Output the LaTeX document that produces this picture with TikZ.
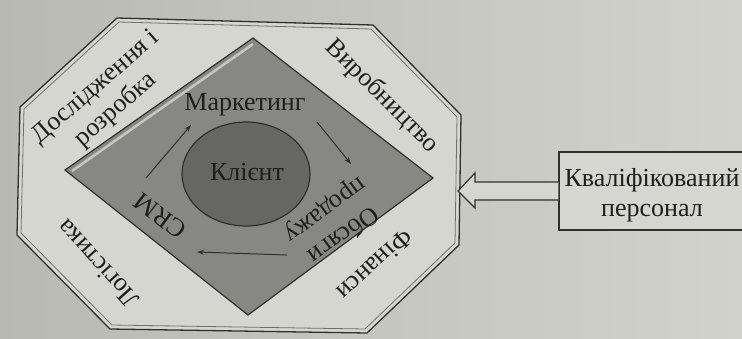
\documentclass[tikz,border=0pt]{standalone}
\usepackage{fontspec}
\setmainfont{Liberation Serif}
\usetikzlibrary{calc,arrows.meta,shapes.geometric}
\definecolor{bgL}{HTML}{B9B9B4}
\definecolor{bgR}{HTML}{D2D2CD}
\definecolor{octfill}{HTML}{D6D6D1}
\definecolor{diafill}{HTML}{878784}
\definecolor{circfill}{HTML}{666663}
\definecolor{ink}{HTML}{30302B}
\definecolor{txt}{HTML}{1E1E1B}
\tikzset{
  lbl/.style={font=\fontsize{26}{30}\selectfont, text=txt, align=center, inner sep=0pt},
  octline/.style={draw=ink, line width=1.3pt, line join=miter},
  octinner/.style={draw=ink!70, line width=0.8pt},
  flow/.style={draw=ink, line width=1pt, -{Stealth[length=7pt,width=5pt]}},
  boxline/.style={draw=ink, line width=1.3pt}
}
\begin{document}
\begin{tikzpicture}[x=1pt,y=-1pt]
\useasboundingbox (0,0) rectangle (742,338);
\clip (0,0) rectangle (742,338);
\shade[left color=bgL, right color=bgR] (0,0) rectangle (742,338);
% octagon
\coordinate (A) at (117,18);
\coordinate (B) at (373,25);
\coordinate (C) at (461,115);
\coordinate (D) at (459,245);
\coordinate (E) at (367,333);
\coordinate (F) at (110,329);
\coordinate (G) at (17,235);
\coordinate (H) at (20,107);
\fill[octfill] (A)--(B)--(C)--(D)--(E)--(F)--(G)--(H)--cycle;
\draw[octline] (A)--(B)--(C)--(D)--(E)--(F)--(G)--(H)--cycle;
\draw[octinner] (119,22)--(371,29)--(457,117)--(455,243)--(365,329)--(112,325)--(21,233)--(24,109)--cycle;
% diamond
\coordinate (DT) at (253,38);
\coordinate (DR) at (433,178);
\coordinate (DB) at (248,315);
\coordinate (DL) at (65,170);
\fill[diafill] (DT)--(DR)--(DB)--(DL)--cycle;
\draw[ink, line width=1.2pt, line join=miter] (DT)--(DR)--(DB)--(DL)--cycle;
\draw[octfill!80!diafill, line width=2.5pt] ($(DL)+(7,1)$)--($(DT)+(0,6)$);
% client
\node[ellipse, draw=ink, line width=1.2pt, fill=circfill, minimum width=128pt, minimum height=104pt, inner sep=0pt] (client) at (246,174) {};
\node[lbl] (klient) at (247,172) {Клієнт};
% inner labels
\node[lbl] (mark) at (245,105) {Маркетинг};
\node[lbl, rotate=-144] (obs) at (334,222) {Обсяги\\продажу};
\node[lbl, rotate=143] (crm) at (160,216) {CRM};
% flow arrows
\coordinate (a1s) at (146,178);
\coordinate (a1e) at (191,125);
\coordinate (a2s) at (317,122);
\coordinate (a2e) at (351,164);
\coordinate (a3s) at (287,255);
\coordinate (a3e) at (197,252);
\draw[flow] (a1s) -- (a1e);
\draw[flow] (a2s) -- (a2e);
\draw[flow] (a3s) -- (a3e);
% octagon labels
\node[lbl, rotate=41] (rd) at (106,99) {Дослідження і\\розробка};
\node[lbl, rotate=-45] (vyr) at (382,96) {Виробництво};
\node[lbl, rotate=-137] (fin) at (375,265) {Фінанси};
\node[lbl, rotate=132] (log) at (98,264) {Логістика};
% personnel box
\node[boxline, fill=octfill, minimum width=216pt, minimum height=78pt, inner sep=0pt] (box) at (667,191) {};
\node[lbl] (pers) at (652,195) {Кваліфікований\\персонал};
\coordinate (tip) at (458,191);
\draw[draw=ink, line width=1.2pt, fill=octfill, line join=miter]
  ($(box.west)+(0,-9)$) -- ($(tip)+(17,-9)$) -- ($(tip)+(17,-18)$) -- (tip)
  -- ($(tip)+(17,17)$) -- ($(tip)+(17,9)$) -- ($(box.west)+(0,9)$);
\end{tikzpicture}
\end{document}
